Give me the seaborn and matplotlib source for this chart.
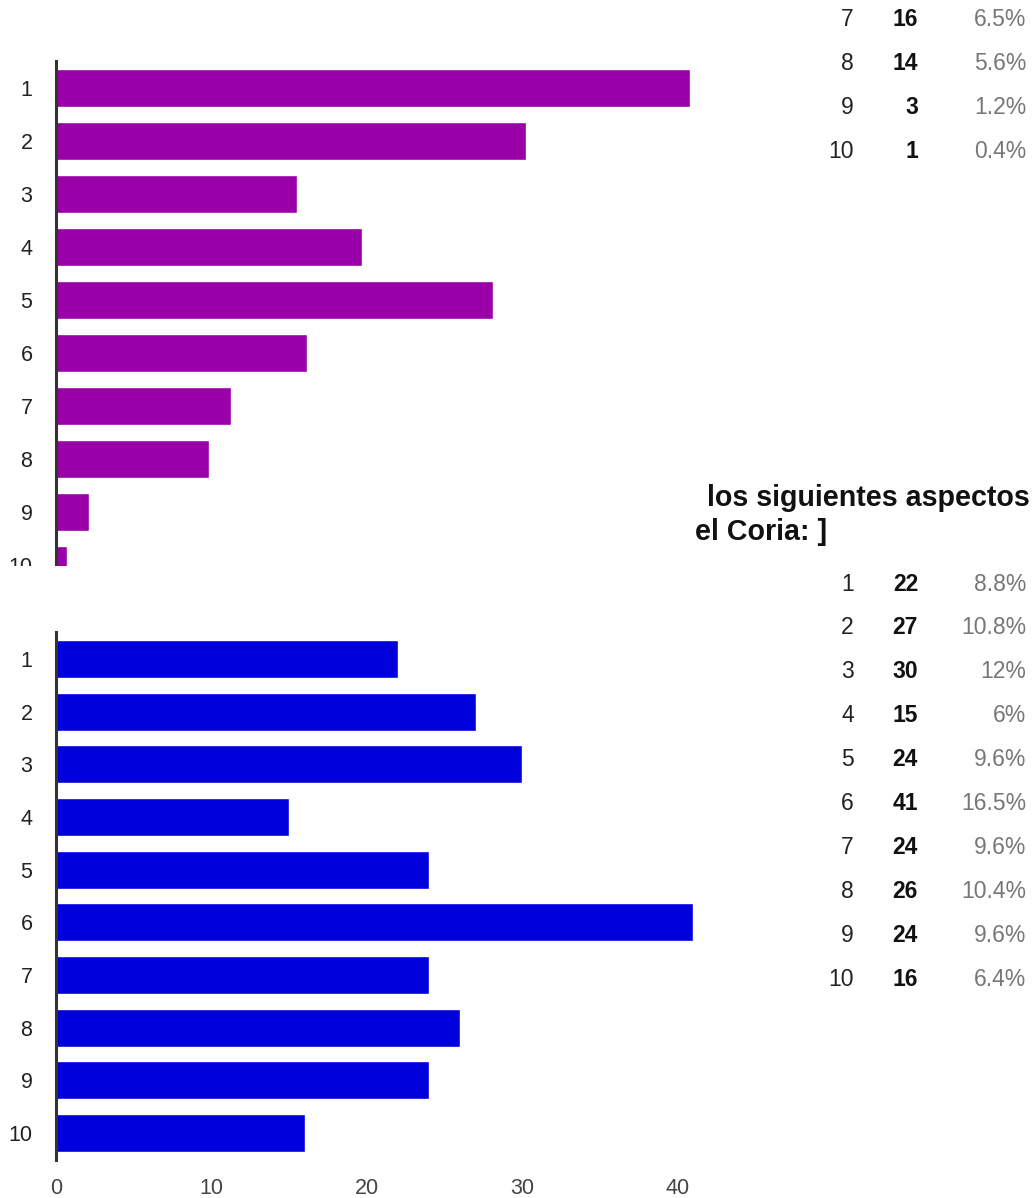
import matplotlib
matplotlib.use("Agg")
import matplotlib.pyplot as plt
from matplotlib.patches import Rectangle
import pandas as pd
import seaborn as sns

# answer scale 1..10
ratings = [str(i) for i in range(1, 11)]
# counts for the upper question (cut off in the screenshot)
top_counts = [58, 43, 22, 28, 40, 23, 16, 14, 3, 1]
top_pcts = ["23.4%", "17.3%", "8.9%", "11.3%", "16.1%", "9.3%", "6.5%", "5.6%", "1.2%", "0.4%"]
# counts for the lower question
bottom_counts = [22, 27, 30, 15, 24, 41, 24, 26, 24, 16]
bottom_pcts = ["8.8%", "10.8%", "12%", "6%", "9.6%", "16.5%", "9.6%", "10.4%", "9.6%", "6.4%"]
bottom_ticks = [0, 10, 20, 30, 40]
title_lines = ["los siguientes aspectos", "el Coria: ]"]

sns.set_style("white")
plt.rcParams["font.family"] = ["Liberation Sans", "DejaVu Sans"]

W, H = 1034, 1198
fig = plt.figure(figsize=(W / 100, H / 100), dpi=100)


def px_axes(x0, y0, x1, y1):
    return fig.add_axes([x0 / W, 1 - y1 / H, (x1 - x0) / W, (y1 - y0) / H])


def style_axes(ax):
    for side in ["top", "right", "bottom"]:
        ax.spines[side].set_visible(False)
    ax.spines["left"].set_color("#333333")
    ax.spines["left"].set_linewidth(2.2)
    ax.tick_params(axis="y", length=0, pad=17, labelsize=15.5, labelcolor="#222222")
    ax.tick_params(axis="x", length=0, pad=13, labelsize=15.5, labelcolor="#444444")
    ax.set_xlabel("")
    ax.set_ylabel("")


# title text (partly hidden behind the chart in the original)
fig.text(1030 / W, 1 - 498 / H, title_lines[0], ha="right", va="center",
         fontsize=20.6, fontweight="bold", color="#111111")
fig.text(695 / W, 1 - 532 / H, title_lines[1], ha="left", va="center",
         fontsize=20.6, fontweight="bold", color="#111111")

# upper chart
top_df = pd.DataFrame({"rating": ratings, "count": top_counts})
ax1 = px_axes(56, 61, 712, 566)
sns.barplot(data=top_df, x="count", y="rating", orient="h", color="#9900a8",
            saturation=1, width=0.72, ax=ax1)
ax1.set_xlim(0, 60)
ax1.set_ylim(9.02, -0.51)
ax1.set_xticks([])
style_axes(ax1)

# hide the cut-off part below the upper chart
fig.add_artist(Rectangle((0, 1 - 625 / H), 712 / W, 59 / H, transform=fig.transFigure,
                         facecolor="white", edgecolor="none", zorder=10))

# lower chart
bottom_df = pd.DataFrame({"rating": ratings, "count": bottom_counts})
ax2 = px_axes(56, 632, 712, 1160)
sns.barplot(data=bottom_df, x="count", y="rating", orient="h", color="#0000dd",
            saturation=1, width=0.72, ax=ax2)
ax2.set_xlim(0, 42.2)
ax2.set_ylim(9.51, -0.51)
ax2.set_xticks(bottom_ticks)
ax2.set_xticklabels([str(t) for t in bottom_ticks])
style_axes(ax2)


# summary tables on the right
def draw_table(rows, counts, pcts, y_start):
    for i, (r, c, p) in enumerate(zip(rows, counts, pcts)):
        y = 1 - (y_start + 44 * i) / H
        fig.text(854 / W, y, r, ha="right", va="center", fontsize=16.5, color="#222222")
        fig.text(918 / W, y, str(c), ha="right", va="center", fontsize=16.5,
                 fontweight="bold", color="#111111")
        fig.text(1026 / W, y, p, ha="right", va="center", fontsize=16.5, color="#777777")


# only the last four rows of the upper table are visible
draw_table(ratings[6:], top_counts[6:], top_pcts[6:], 20)
draw_table(ratings, bottom_counts, bottom_pcts, 584)

plt.savefig("out.png", dpi=100)
plt.close()
